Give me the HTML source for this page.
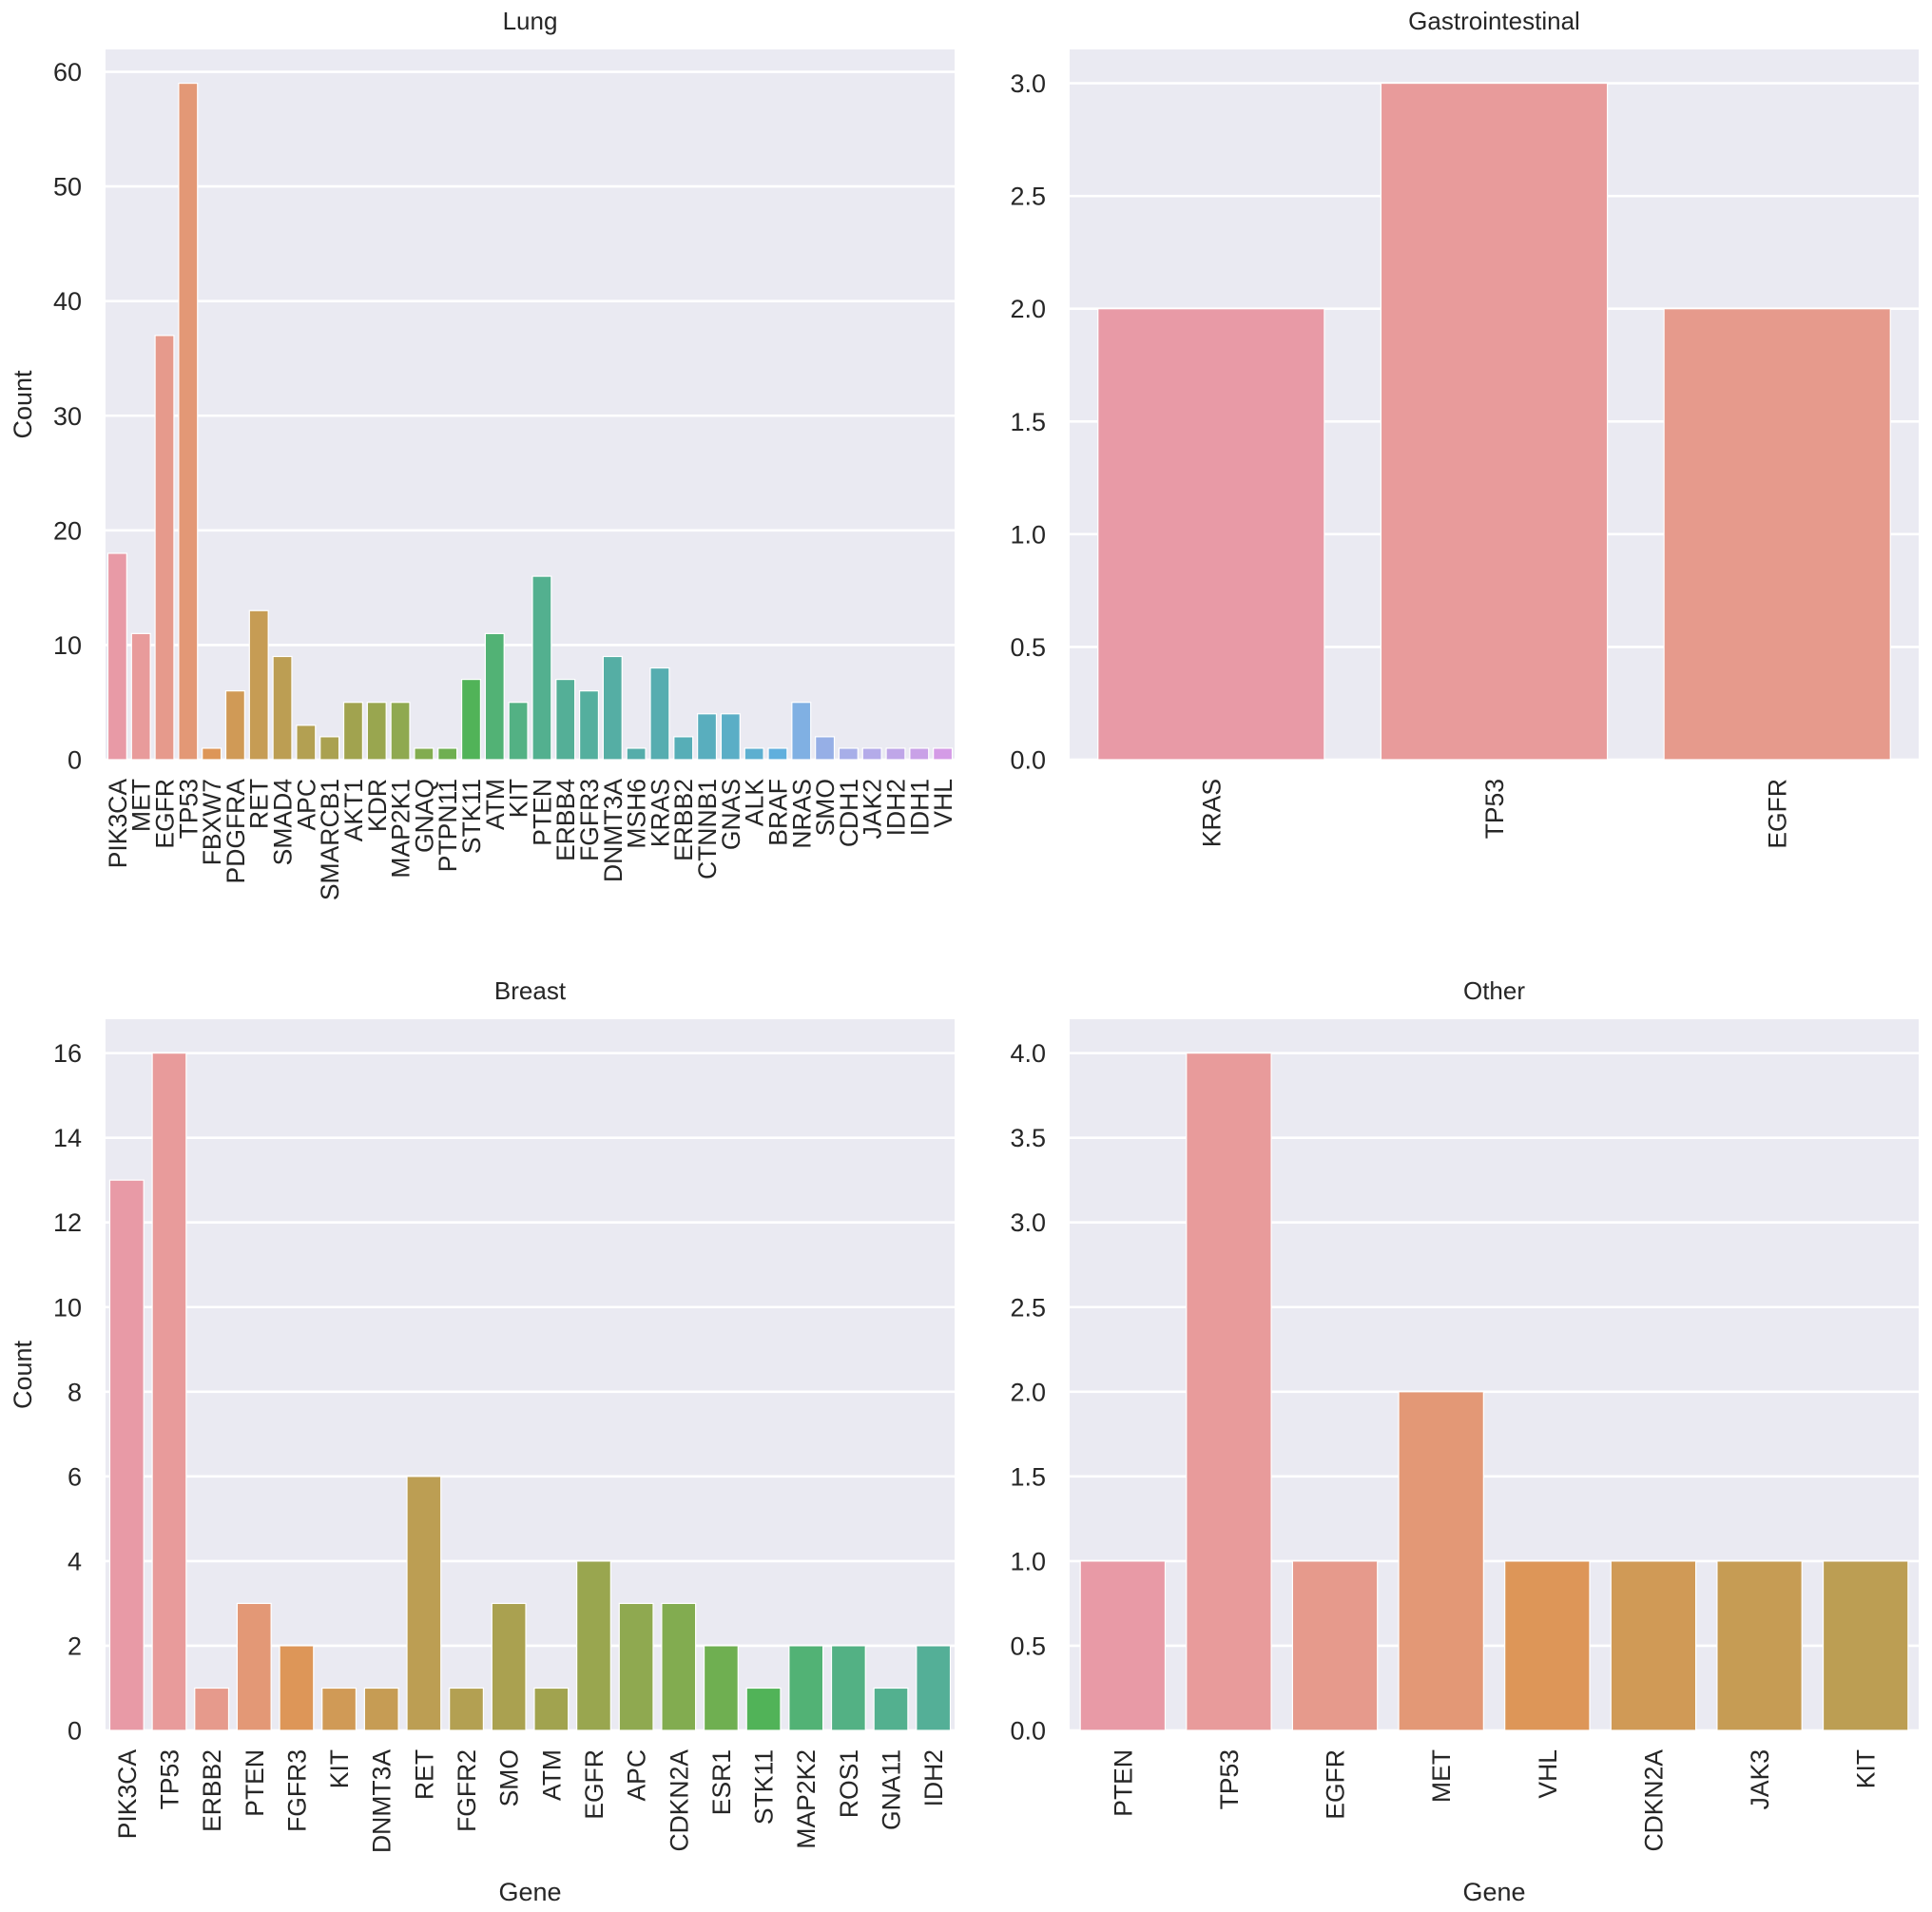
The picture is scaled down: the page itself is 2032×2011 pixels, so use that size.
<!DOCTYPE html>
<html><head><meta charset="utf-8">
<style>
html,body{margin:0;padding:0;background:#fff;}
svg{display:block;font-family:"Liberation Sans",Arial,sans-serif;}
</style></head>
<body>
<svg id="fig" width="2032" height="2011" viewBox="0 0 2032 2011" xmlns="http://www.w3.org/2000/svg"></svg>
<script>
// ---- data ----
const lungGenes = ["PIK3CA","MET","EGFR","TP53","FBXW7","PDGFRA","RET","SMAD4","APC","SMARCB1","AKT1","KDR","MAP2K1","GNAQ","PTPN11","STK11","ATM","KIT","PTEN","ERBB4","FGFR3","DNMT3A","MSH6","KRAS","ERBB2","CTNNB1","GNAS","ALK","BRAF","NRAS","SMO","CDH1","JAK2","IDH2","IDH1","VHL"];
const lungCounts = [18,11,37,59,1,6,13,9,3,2,5,5,5,1,1,7,11,5,16,7,6,9,1,8,2,4,4,1,1,5,2,1,1,1,1,1];
const lungTicks = [0,10,20,30,40,50,60];
const lungTickLabels = ["0","10","20","30","40","50","60"];

const giGenes = ["KRAS","TP53","EGFR"];
const giCounts = [2,3,2];
const giTicks = [0,0.5,1,1.5,2,2.5,3];
const giTickLabels = ["0.0","0.5","1.0","1.5","2.0","2.5","3.0"];

const breastGenes = ["PIK3CA","TP53","ERBB2","PTEN","FGFR3","KIT","DNMT3A","RET","FGFR2","SMO","ATM","EGFR","APC","CDKN2A","ESR1","STK11","MAP2K2","ROS1","GNA11","IDH2"];
const breastCounts = [13,16,1,3,2,1,1,6,1,3,1,4,3,3,2,1,2,2,1,2];
const breastTicks = [0,2,4,6,8,10,12,14,16];
const breastTickLabels = ["0","2","4","6","8","10","12","14","16"];

const otherGenes = ["PTEN","TP53","EGFR","MET","VHL","CDKN2A","JAK3","KIT"];
const otherCounts = [1,4,1,2,1,1,1,1];
const otherTicks = [0,0.5,1,1.5,2,2.5,3,3.5,4];
const otherTickLabels = ["0.0","0.5","1.0","1.5","2.0","2.5","3.0","3.5","4.0"];

// ---- husl palette ----
const M=[[3.240969941904521,-1.537383177570093,-0.498610760293],[-0.96924363628087,1.87596750150772,0.041555057407175],[0.055630079696993,-0.20397695888897,1.056971514242878]];
const refU=0.19783000664283,refV=0.46831999493879,kappa=903.2962962,eps=0.0088564516;
function bounds(L){const r=[];const s1=Math.pow(L+16,3)/1560896;const s2=s1>eps?s1:L/kappa;
 for(const [m1,m2,m3] of M){for(const t of [0,1]){const top1=(284517*m1-94839*m3)*s2;
 const top2=(838422*m3+769860*m2+731718*m1)*L*s2-769860*t*L;const bot=(632260*m3-126452*m2)*s2+126452*t;r.push([top1/bot,top2/bot]);}}return r;}
function maxC(L,H){const h=H/360*Math.PI*2;let mn=Infinity;for(const [m,b] of bounds(L)){const len=b/(Math.sin(h)-m*Math.cos(h));if(len>=0&&len<mn)mn=len;}return mn;}
function husl2rgb(H,S,L){const C=maxC(L,H)/100*S;const h=H/360*Math.PI*2;const U=C*Math.cos(h),V=C*Math.sin(h);
 const Y=L>8?Math.pow((L+16)/116,3):L/kappa;const vU=U/(13*L)+refU,vV=V/(13*L)+refV;
 const X=0-(9*Y*vU)/((vU-4)*vV-vU*vV);const Z=(9*Y-15*vV*Y-vV*X)/(3*vV);
 return M.map(r=>{const c=r[0]*X+r[1]*Y+r[2]*Z;const v=c<=0.0031308?12.92*c:1.055*Math.pow(c,1/2.4)-0.055;return Math.min(1,Math.max(0,v));});}
function rgb2hls(r,g,b){const mx=Math.max(r,g,b),mn=Math.min(r,g,b);const l=(mx+mn)/2;if(mx===mn)return[0,l,0];
 const d=mx-mn;const s=l<=0.5?d/(mx+mn):d/(2-mx-mn);let h;if(mx===r)h=((g-b)/d)%6;else if(mx===g)h=(b-r)/d+2;else h=(r-g)/d+4;h/=6;if(h<0)h+=1;return[h,l,s];}
function hue2(m1,m2,h){h=((h%1)+1)%1;if(h<1/6)return m1+(m2-m1)*h*6;if(h<0.5)return m2;if(h<2/3)return m1+(m2-m1)*(2/3-h)*6;return m1;}
function hls2rgb(h,l,s){if(s===0)return[l,l,l];const m2=l<=0.5?l*(1+s):l+s-l*s;const m1=2*l-m2;return[hue2(m1,m2,h+1/3),hue2(m1,m2,h),hue2(m1,m2,h-1/3)];}
function palette(n){const out=[];for(let i=0;i<n;i++){let h=(i/n+0.01)%1;h*=359;const rgb=husl2rgb(h,85,70);
 const [hh,ll,ss]=rgb2hls(...rgb);const c=hls2rgb(hh,ll,ss*0.75);out.push('rgb('+c.map(v=>Math.round(v*255)).join(',')+')');}return out;}
const PAL=palette(43);

// ---- drawing ----
const NS="http://www.w3.org/2000/svg";const svg=document.getElementById('fig');
function el(tag,attrs,parent,text){const e=document.createElementNS(NS,tag);for(const k in attrs)e.setAttribute(k,attrs[k]);if(text!==undefined)e.textContent=text;(parent||svg).appendChild(e);return e;}

function panel(name,title,genes,counts,ticks,tickLabels,L,R,T,B,ylabel,xlabel){
 const g=el('g',{});
 
 
 const ymax=Math.max(...counts)*1.05;
 const yS=v=>B-(B-T)*v/ymax;
 const slot=(R-L)/genes.length;
 const xS=i=>L+slot*(i+0.5);
 const bg=el('rect',{x:L,y:T,width:R-L,height:B-T,fill:'#eaeaf2'},g);
 
 
 ticks.forEach((t,i)=>{
  const y=yS(t);
  const gl=el('line',{x1:L,x2:R,y1:y,y2:y,stroke:'#fff','stroke-width':2.6},g);
  
  
  const tl=el('text',{x:L-25,y:y+9.5,'text-anchor':'end','font-size':27,fill:'#262626'},g,tickLabels[i]);
  
  
 });
 genes.forEach((gn,i)=>{
  const cx=xS(i),bw=slot*0.8;
  const b=el('rect',{x:cx-bw/2,y:yS(counts[i]),width:bw,height:B-yS(counts[i]),fill:PAL[i],stroke:'#fff','stroke-width':1.2},g);
  
  
  const tx=el('text',{x:0,y:0,'text-anchor':'end','font-size':26.5,fill:'#262626',transform:'translate('+(cx+9.5)+','+(B+20)+') rotate(-90)'},g,gn);
  
  
 });
 const tt=el('text',{x:(L+R)/2,y:T-21,'text-anchor':'middle','font-size':26,fill:'#262626'},g,title);
 
 
 if(ylabel){const yl=el('text',{x:0,y:0,'text-anchor':'middle','font-size':27,fill:'#262626',transform:'translate(33,'+((T+B)/2)+') rotate(-90)'},g,ylabel);
  
  }
 if(xlabel){const xl=el('text',{x:(L+R)/2,y:1999,'text-anchor':'middle','font-size':27,fill:'#262626'},g,xlabel);
  
  }
}
panel('lung','Lung',lungGenes,lungCounts,lungTicks,lungTickLabels,111,1004,52,799,'Count',null);
panel('gastrointestinal','Gastrointestinal',giGenes,giCounts,giTicks,giTickLabels,1125,2018,52,799,null,null);
panel('breast','Breast',breastGenes,breastCounts,breastTicks,breastTickLabels,111,1004,1072,1820,'Count','Gene');
panel('other','Other',otherGenes,otherCounts,otherTicks,otherTickLabels,1125,2018,1072,1820,null,'Gene');
</script>
</body></html>
